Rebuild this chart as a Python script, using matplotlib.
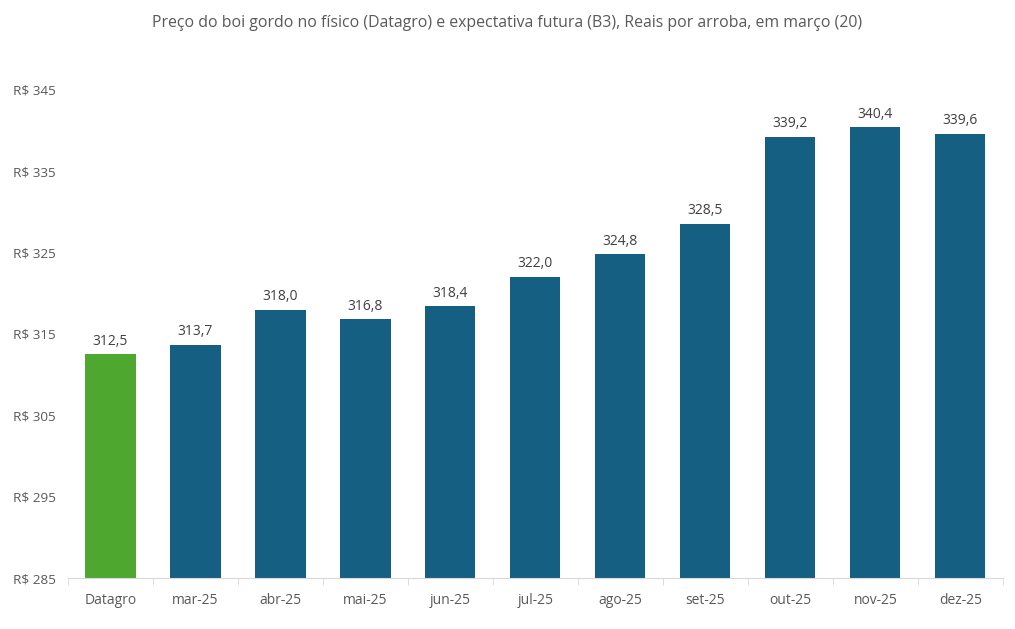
import numpy as np
import matplotlib
matplotlib.use("Agg")
import matplotlib.pyplot as plt


CATEGORIES = ["Datagro", "mar-25", "abr-25", "mai-25", "jun-25", "jul-25",
              "ago-25", "set-25", "out-25", "nov-25", "dez-25"]

VALUES = [312.5, 313.7, 318.0, 316.8, 318.4, 322.0,
          324.8, 328.5, 339.2, 340.4, 339.6]

Y_TICKS = [285, 295, 305, 315, 325, 335, 345]

TITLE = "Preço do boi gordo no físico (Datagro) e expectativa futura (B3), Reais por arroba, em março (20)"

GREEN = "#4EA72E"
BLUE = "#156082"
TEXT = "#595959"


def main():

    plt.rcParams["font.family"] = ["Open Sans", "DejaVu Sans"]

    fig = plt.figure(figsize=(10.15, 6.29), dpi=100)

    ax = fig.add_axes([0.067, 0.081, 0.921, 0.776])

    x = np.arange(len(CATEGORIES))
    colors = [GREEN] + [BLUE] * (len(CATEGORIES) - 1)

    ax.bar(x, np.array(VALUES) - Y_TICKS[0], bottom=Y_TICKS[0],
           width=0.59, color=colors)

    for xi, v in zip(x, VALUES):
        ax.text(xi, v + 0.7, f"{v:.1f}".replace(".", ","),
                ha="center", va="bottom", fontsize=10, color="#404040")

    ax.set_xlim(-0.5, len(CATEGORIES) - 0.5)
    ax.set_ylim(Y_TICKS[0], Y_TICKS[-1])

    ax.set_yticks(Y_TICKS)
    ax.set_yticklabels([f"R$ {t}" for t in Y_TICKS], fontsize=9.7, color=TEXT)
    ax.tick_params(axis="y", length=0, pad=9)

    ax.set_xticks(x)
    ax.set_xticklabels(CATEGORIES, fontsize=10, color=TEXT)
    ax.tick_params(axis="x", length=0, pad=11)

    ax.set_xticks(np.arange(-0.5, len(CATEGORIES)), minor=True)
    ax.tick_params(axis="x", which="minor", length=5, color="#D9D9D9")

    for side in ["top", "right", "left"]:
        ax.spines[side].set_visible(False)
    ax.spines["bottom"].set_color("#D9D9D9")

    fig.text(0.5, 0.963, TITLE, ha="center", va="center", fontsize=11.4,
             color=TEXT)

    fig.savefig("out.png", dpi=100)

    plt.close(fig)


if __name__ == "__main__":
    main()
